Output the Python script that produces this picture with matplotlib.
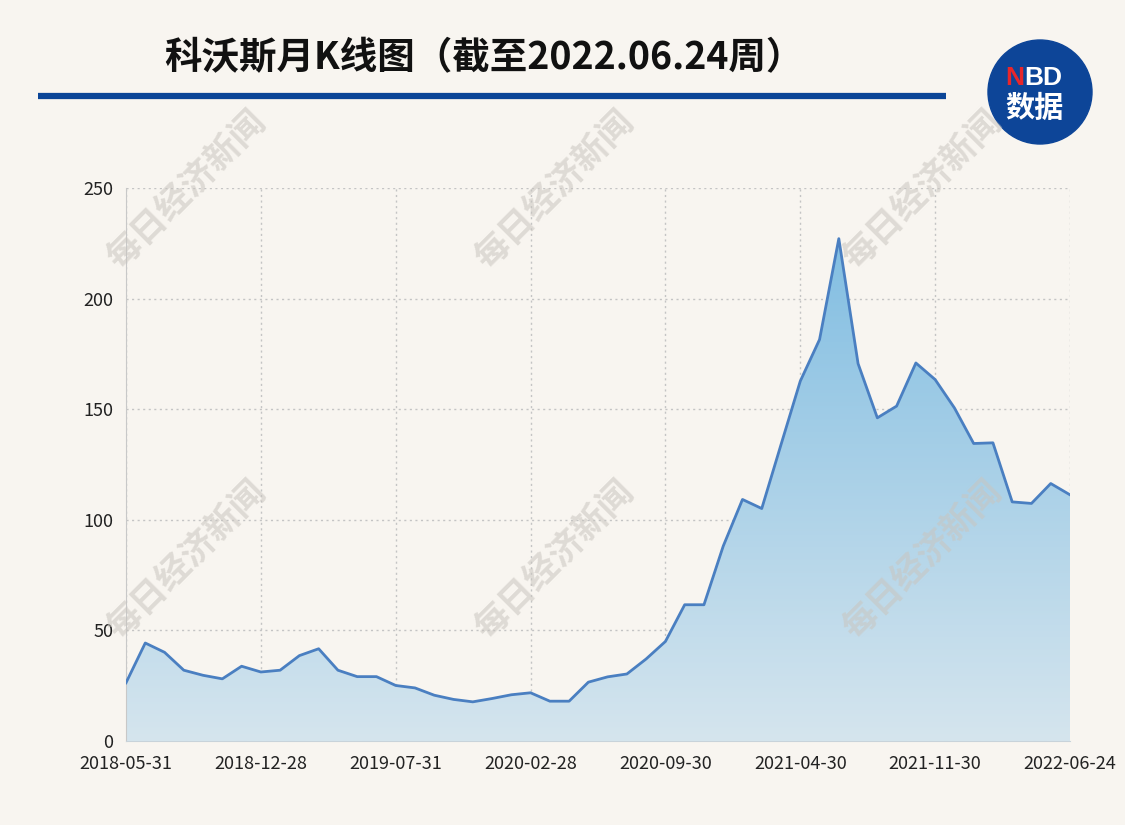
import numpy as np
import matplotlib.pyplot as plt
from matplotlib.patches import Circle, Polygon
from matplotlib.colors import LinearSegmentedColormap

plt.rcParams['font.family'] = ['Noto Sans CJK SC', 'DejaVu Sans']

title = '科沃斯月K线图（截至2022.06.24周）'
# monthly closing values, 2018-05 .. 2022-06
price = [26.3, 44.3, 40.1, 32.0, 29.7, 28.1, 33.8, 31.2, 32.0, 38.6,
         41.7, 32.0, 29.1, 29.1, 25.1, 24.0, 20.7, 18.8, 17.7, 19.2,
         20.9, 21.8, 18.0, 18.0, 26.6, 29.0, 30.3, 37.1, 45.0, 61.6,
         61.6, 88.1, 109.2, 105.1, 134.0, 162.7, 181.5, 227.1, 170.6, 146.1,
         151.4, 170.9, 163.4, 150.6, 134.5, 134.8, 108.1, 107.4, 116.4, 111.3]
tick_pos = [0, 7, 14, 21, 28, 35, 42, 49]
tick_labels = ['2018-05-31', '2018-12-28', '2019-07-31', '2020-02-28',
               '2020-09-30', '2021-04-30', '2021-11-30', '2022-06-24']
y_ticks = [0, 50, 100, 150, 200, 250]

bg = '#f8f5f0'
W, H = 1125, 825

def fx(px):
    return px / W

def fy(py):
    return 1 - py / H

fig = plt.figure(figsize=(11.25, 8.25), dpi=100, facecolor=bg)
ax = fig.add_axes([fx(126), fy(741), fx(1070) - fx(126), fy(188) - fy(741)])
ax.set_facecolor(bg)

x = np.arange(len(price))
y = np.array(price)

# gradient fill under the line
cmap = LinearSegmentedColormap.from_list('fill', ['#d5e5ee', '#82bee2'])
grad = np.linspace(0, 1, 256).reshape(-1, 1)
img = ax.imshow(grad, cmap=cmap, origin='lower', aspect='auto',
                extent=[x[0], x[-1], 0, y.max()], zorder=1)
verts = np.vstack([np.column_stack([x, y]), [[x[-1], 0], [x[0], 0]]])
poly = Polygon(verts, closed=True, facecolor='none', edgecolor='none')
ax.add_patch(poly)
img.set_clip_path(poly)

ax.plot(x, y, color='#4a7fc1', lw=2.0, zorder=3)

ax.set_xlim(0, 49)
ax.set_ylim(0, 250)
ax.set_xticks(tick_pos)
ax.set_xticklabels(tick_labels)
ax.set_yticks(y_ticks)
ax.tick_params(length=0, labelsize=13, colors='#222222')
ax.tick_params(axis='x', pad=10)
ax.tick_params(axis='y', pad=9)
ax.grid(True, color='#c4c4c4', linestyle=(0, (1.5, 2.5)), lw=1, zorder=0)
ax.set_axisbelow(True)
for s in ['top', 'right']:
    ax.spines[s].set_visible(False)
ax.spines['left'].set_color('#c8c8c8')
ax.spines['bottom'].set_color('#c8d3da')

# title and rule
fig.text(fx(484), fy(58), title, fontsize=27, fontweight='heavy',
         color='#111111', ha='center', va='center')
fig.add_artist(plt.Line2D([fx(38), fx(946)], [fy(96), fy(96)],
                          color='#0b4597', lw=4.5, solid_capstyle='butt'))

# NBD logo
logo = Circle((1040, H - 92), 52, transform=None, color='#0d4598', zorder=5)
fig.add_artist(logo)
fig.text(fx(1005), fy(78), 'N', fontsize=19, fontweight='bold', color='#e8262a',
         ha='left', va='center', family='Liberation Sans', zorder=6)
fig.text(fx(1024), fy(78), 'BD', fontsize=19, fontweight='bold', color='white',
         ha='left', va='center', family='Liberation Sans', zorder=6)
fig.text(fx(1034), fy(108), '数据', fontsize=21, fontweight='heavy', color='white',
         ha='center', va='center', zorder=6)

# watermarks
for wx in [186, 554, 922]:
    for wy in [190, 560]:
        fig.text(fx(wx), fy(wy), '每日经济新闻', fontsize=25, fontweight='bold',
                 color='#c9c5bf', alpha=0.55, rotation=45,
                 ha='center', va='center', zorder=10)

fig.savefig('out.png', dpi=100, facecolor=bg)
